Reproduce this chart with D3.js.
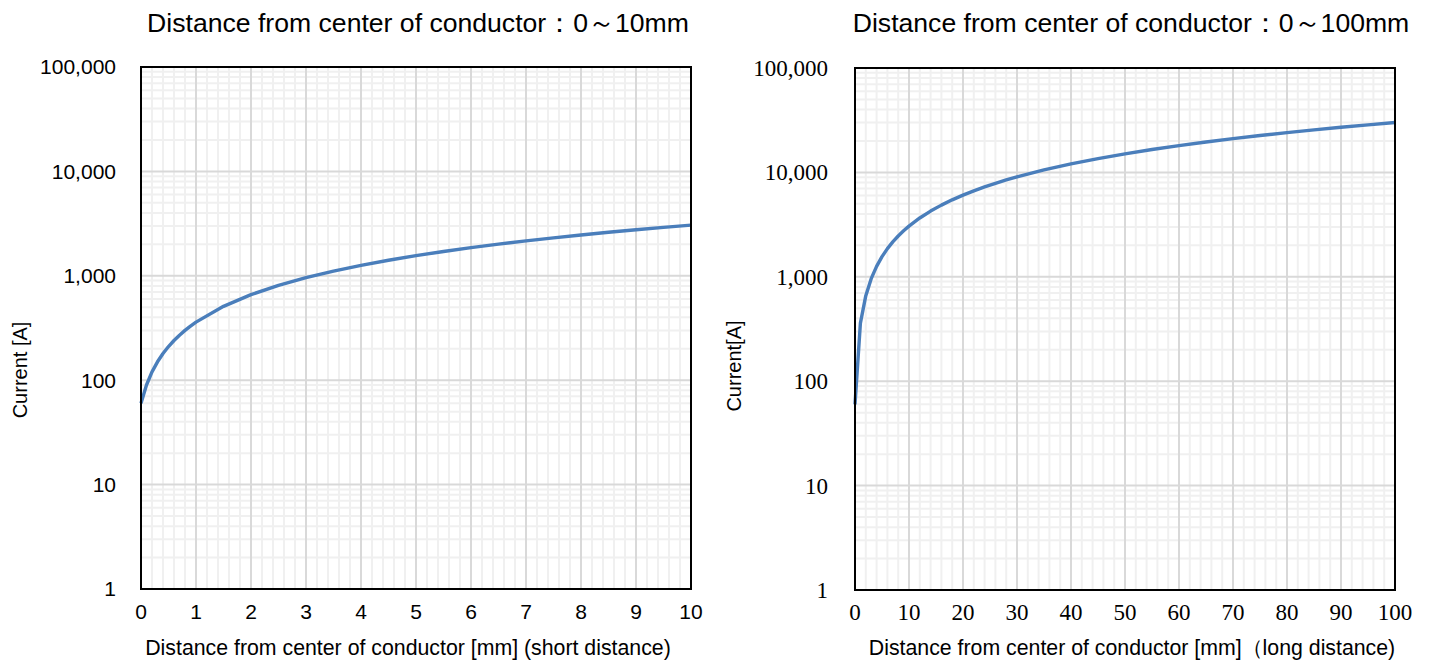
<!DOCTYPE html>
<html>
<head>
<meta charset="utf-8">
<script src="https://cdn.jsdelivr.net/npm/d3@7"></script>
<style>
	body { margin: 0; background: #fff; }
	svg { display: block; }
	.grid-minor line { stroke: #f0f0f0; stroke-width: 2; }
	.grid-major line { stroke: #d9d9d9; stroke-width: 2; }
	.curve { fill: none; stroke: #4a7ebb; stroke-width: 3.4; stroke-linejoin: round; }
	.frame { fill: none; stroke: #000; stroke-width: 2; }
</style>
</head>
<body>
<svg id="chart" width="1432" height="666"></svg>
<script>
/*
** Current against distance from the conductor centre, two log charts.
*/

// short distance chart (0 - 10 mm)
var shortDist = [0, 0.1, 0.2, 0.3, 0.4, 0.5, 0.6, 0.7, 0.8, 0.9, 1, 1.5, 2, 2.5, 3, 3.5, 4, 4.5, 5,
	5.5, 6, 6.5, 7, 7.5, 8, 8.5, 9, 9.5, 10];
var shortCurrent = [60, 90, 120, 150, 180, 210, 240, 270, 300, 330, 360, 510, 660, 810, 960, 1110, 1260, 1410, 1560,
	1710, 1860, 2010, 2160, 2310, 2460, 2610, 2760, 2910, 3060];
var shortTicks = [0, 1, 2, 3, 4, 5, 6, 7, 8, 9, 10];

// long distance chart (0 - 100 mm)
var longDist = [0, 1, 2, 3, 4, 5, 6, 7, 8, 9, 10, 12, 14, 16, 18, 20, 22, 24, 26, 28, 30,
	35, 40, 45, 50, 55, 60, 65, 70, 75, 80, 85, 90, 95, 100];
var longCurrent = [60, 360, 660, 960, 1260, 1560, 1860, 2160, 2460, 2760, 3060, 3660, 4260, 4860, 5460, 6060,
	6660, 7260, 7860, 8460, 9060, 10560, 12060, 13560, 15060, 16560, 18060, 19560, 21060, 22560,
	24060, 25560, 27060, 28560, 30060];
var longTicks = [0, 10, 20, 30, 40, 50, 60, 70, 80, 90, 100];

// shared y axis
var currentTicks = [1, 10, 100, 1000, 10000, 100000];

var svg = d3.select("#chart");

/*
** Draws one chart with its grid, curve, frame and texts.
*/
function drawChart(cfg) {
	var x = d3.scaleLinear().domain([0, cfg.xMax]).range([cfg.left, cfg.right]);
	var y = d3.scaleLog().domain([1, 100000]).range([cfg.bottom, cfg.top]);
	var g = svg.append("g");

	// minor grid
	var minorX = d3.range(0, cfg.xMax + 1e-9, cfg.xMinor).filter(function(v) {
		return Math.abs(v / cfg.xMajor - Math.round(v / cfg.xMajor)) > 1e-6;
	});
	var minorY = [];
	currentTicks.slice(0, -1).forEach(function(d) {
		for (var k = 2; k <= 9; k++) minorY.push(d * k);
	});
	var gm = g.append("g").attr("class", "grid-minor");
	gm.selectAll("line.v").data(minorX).enter().append("line")
		.attr("x1", function(d) { return x(d); })
		.attr("x2", function(d) { return x(d); })
		.attr("y1", cfg.top).attr("y2", cfg.bottom);
	gm.selectAll("line.h").data(minorY).enter().append("line")
		.attr("y1", function(d) { return y(d); })
		.attr("y2", function(d) { return y(d); })
		.attr("x1", cfg.left).attr("x2", cfg.right);

	// major grid
	var gM = g.append("g").attr("class", "grid-major");
	gM.selectAll("line.v").data(cfg.ticks).enter().append("line")
		.attr("x1", function(d) { return x(d); })
		.attr("x2", function(d) { return x(d); })
		.attr("y1", cfg.top).attr("y2", cfg.bottom);
	gM.selectAll("line.h").data(currentTicks).enter().append("line")
		.attr("y1", function(d) { return y(d); })
		.attr("y2", function(d) { return y(d); })
		.attr("x1", cfg.left).attr("x2", cfg.right);

	// curve
	var line = d3.line()
		.x(function(d) { return x(d[0]); })
		.y(function(d) { return y(d[1]); });
	g.append("path")
		.attr("class", "curve")
		.attr("d", line(d3.zip(cfg.xs, cfg.ys)));

	g.append("rect")
		.attr("class", "frame")
		.attr("x", cfg.left).attr("y", cfg.top)
		.attr("width", cfg.right - cfg.left)
		.attr("height", cfg.bottom - cfg.top);

	// tick labels
	g.selectAll("text.xt").data(cfg.ticks).enter().append("text")
		.attr("x", function(d) { return x(d); })
		.attr("y", cfg.bottom + 30)
		.attr("text-anchor", "middle")
		.style("font-family", cfg.tickFont)
		.style("font-size", cfg.tickSize + "px")
		.text(function(d) { return d; });
	g.selectAll("text.yt").data(currentTicks).enter().append("text")
		.attr("x", cfg.left - cfg.yTickGap)
		.attr("y", function(d) { return y(d); })
		.attr("dy", "0.35em")
		.attr("text-anchor", "end")
		.style("font-family", cfg.tickFont)
		.style("font-size", cfg.tickSize + "px")
		.text(function(d) { return d3.format(",")(d); });

	// titles
	var sans = "'Liberation Sans', Arial, sans-serif";
	g.append("text")
		.attr("x", cfg.titleX).attr("y", 32)
		.attr("text-anchor", "middle")
		.style("font-family", sans).style("font-size", "26.6px")
		.text(cfg.title);
	g.append("text")
		.attr("x", cfg.xLabelX).attr("y", 655)
		.attr("text-anchor", "middle")
		.style("font-family", sans).style("font-size", "21.3px")
		.text(cfg.xLabel);
	g.append("text")
		.attr("transform", "translate(" + cfg.yLabelX + "," + cfg.yLabelY + ") rotate(-90)")
		.attr("text-anchor", "middle")
		.style("font-family", sans).style("font-size", "20px")
		.text(cfg.yLabel);
}

drawChart({
	left: 141, right: 691, top: 67, bottom: 589,
	xMax: 10, xMajor: 1, xMinor: 0.2, ticks: shortTicks,
	xs: shortDist, ys: shortCurrent,
	tickFont: "'Liberation Sans', Arial, sans-serif", tickSize: 21, yTickGap: 25,
	title: "Distance from center of conductor\uff1a0\uff5e10mm", titleX: 418,
	xLabel: "Distance from center of conductor [mm] (short distance)", xLabelX: 408,
	yLabel: "Current [A]", yLabelX: 27, yLabelY: 370
});

drawChart({
	left: 855, right: 1395, top: 68, bottom: 590,
	xMax: 100, xMajor: 10, xMinor: 2, ticks: longTicks,
	xs: longDist, ys: longCurrent,
	tickFont: "'Liberation Serif', 'Times New Roman', serif", tickSize: 23, yTickGap: 27,
	title: "Distance from center of conductor\uff1a0\uff5e100mm", titleX: 1131,
	xLabel: "Distance from center of conductor [mm]\uff08long distance)", xLabelX: 1132,
	yLabel: "Current[A]", yLabelX: 741, yLabelY: 366
});
</script>
</body>
</html>
